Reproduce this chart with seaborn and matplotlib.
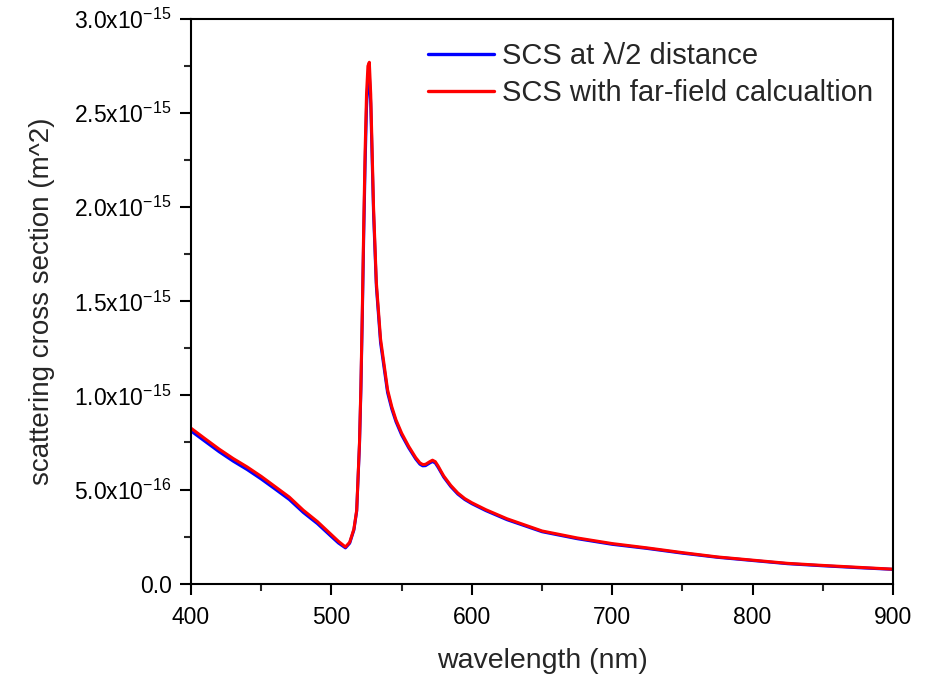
import numpy as np
import pandas as pd
import seaborn as sns
import matplotlib
matplotlib.use("Agg")
import matplotlib.pyplot as plt
from matplotlib.ticker import FuncFormatter

# Данные (сечение в единицах 1e-15 м^2)
wavelength = [400, 410, 420, 430, 440, 450, 460, 470, 480, 490, 500, 505, 510,
              513, 516, 518, 520, 521, 522, 523, 524, 525, 526, 527, 528, 529,
              530, 532, 535, 540, 543, 546, 550, 555, 560, 563, 565, 567, 570,
              572, 574, 576, 578, 580, 585, 590, 595, 600, 610, 625, 650, 675,
              700, 725, 750, 775, 800, 825, 850, 875, 900]

scs_far = [0.826, 0.77, 0.715, 0.665, 0.62, 0.57, 0.515, 0.46, 0.39, 0.33,
           0.26, 0.225, 0.195, 0.22, 0.29, 0.39, 0.75, 1.05, 1.45, 1.9, 2.3,
           2.6, 2.75, 2.77, 2.6, 2.3, 2.0, 1.6, 1.3, 1.03, 0.94, 0.87, 0.80,
           0.73, 0.67, 0.642, 0.633, 0.634, 0.648, 0.656, 0.648, 0.625, 0.598,
           0.572, 0.522, 0.482, 0.452, 0.43, 0.393, 0.345, 0.28, 0.243, 0.213,
           0.19, 0.165, 0.142, 0.125, 0.108, 0.097, 0.087, 0.077]

scs_near = [0.811, 0.756, 0.701, 0.651, 0.606, 0.556, 0.502, 0.447, 0.378,
            0.319, 0.25, 0.216, 0.19, 0.215, 0.285, 0.385, 0.74, 1.03, 1.42,
            1.85, 2.23, 2.53, 2.68, 2.70, 2.55, 2.26, 1.97, 1.58, 1.28, 1.015,
            0.928, 0.86, 0.79, 0.722, 0.663, 0.635, 0.626, 0.627, 0.641,
            0.649, 0.641, 0.618, 0.592, 0.566, 0.516, 0.476, 0.447, 0.425,
            0.388, 0.34, 0.276, 0.239, 0.209, 0.187, 0.162, 0.14, 0.123,
            0.106, 0.095, 0.085, 0.076]

x_major = [400, 500, 600, 700, 800, 900]
x_minor = [450, 550, 650, 750, 850]
y_major = [0.0, 0.5e-15, 1.0e-15, 1.5e-15, 2.0e-15, 2.5e-15, 3.0e-15]
y_minor = [0.25e-15, 0.75e-15, 1.25e-15, 1.75e-15, 2.25e-15, 2.75e-15]

label_near = "SCS at \u03bb/2 distance"
label_far = "SCS with far-field calcualtion"

df = pd.DataFrame({
    "wavelength": wavelength * 2,
    "scs": np.array(scs_near + scs_far) * 1e-15,
    "curve": [label_near] * len(wavelength) + [label_far] * len(wavelength),
})

sns.set_style("ticks")
plt.rcParams["font.family"] = ["Liberation Sans", "DejaVu Sans"]
plt.rcParams["mathtext.default"] = "regular"

fig = plt.figure(figsize=(9.35, 6.75), dpi=100)
ax = fig.add_axes([0.2043, 0.1353, 0.7508, 0.8366])

sns.lineplot(data=df, x="wavelength", y="scs", hue="curve",
             palette={label_near: "#0000ff", label_far: "#ff0000"},
             linewidth=2.2, ax=ax)

ax.set_xlim(400, 900)
ax.set_ylim(0, 3e-15)
ax.set_xticks(x_major)
ax.set_xticks(x_minor, minor=True)
ax.set_yticks(y_major)
ax.set_yticks(y_minor, minor=True)


def sci_fmt(v, pos):
    if v < 1e-20:
        return "0.0"
    e = int(np.floor(np.log10(v) + 1e-9))
    m = v / 10 ** e
    return f"{m:.1f}x10$^{{{e}}}$"


ax.yaxis.set_major_formatter(FuncFormatter(sci_fmt))

for s in ax.spines.values():
    s.set_linewidth(1.5)
    s.set_color("black")
ax.tick_params(which="major", direction="out", length=8, width=1.5,
               labelsize=16.5, colors="black", pad=6)
ax.tick_params(axis="x", which="major", pad=8)
ax.tick_params(which="minor", direction="out", length=5, width=1.5)

ax.set_xlabel("wavelength (nm)", fontsize=20.5, labelpad=14)
ax.set_ylabel("scattering cross section (m^2)", fontsize=20, labelpad=14)

leg = ax.legend(loc="upper left", bbox_to_anchor=(0.458, 0.938),
                bbox_transform=fig.transFigure, frameon=False, fontsize=21,
                handlelength=2.25, handletextpad=0.28, labelspacing=0.32,
                borderpad=0, borderaxespad=0)
for line in leg.get_lines():
    line.set_linewidth(2.4)

fig.savefig("out.png", dpi=100)
